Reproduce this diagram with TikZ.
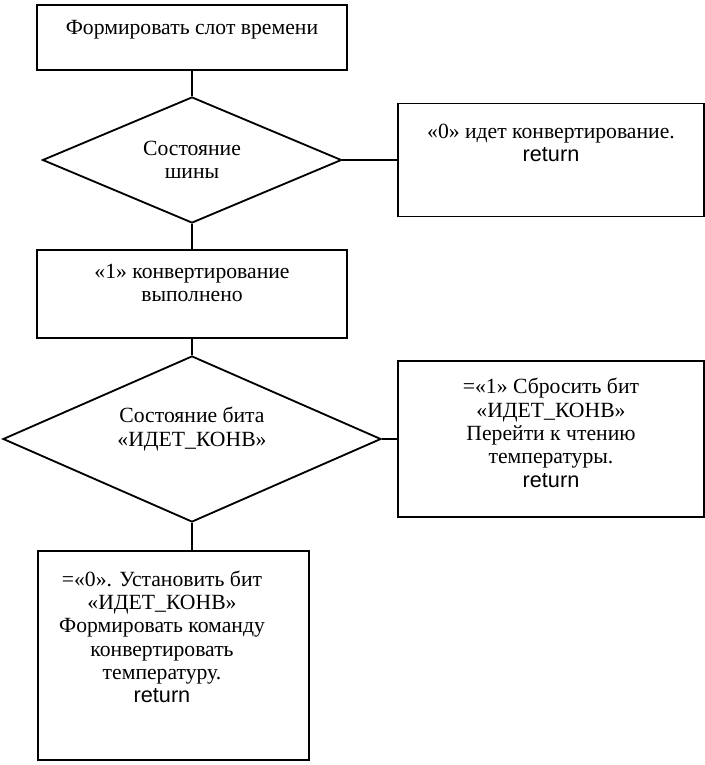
\documentclass[tikz,border=0pt]{standalone}
\usepackage{fontspec}
\setmainfont{Liberation Serif}
\newfontfamily\retfont{Liberation Sans}
\usetikzlibrary{shapes.geometric}
\begin{document}
\begin{tikzpicture}[x=0.6pt, y=-0.6pt,
    blok/.style={draw, line width=1.1pt, rectangle, inner sep=0pt},
    romb/.style={draw, line width=1.1pt, diamond, inner sep=0pt},
    lbl/.style={align=center, inner sep=0pt, font=\fontsize{13}{14}\selectfont},
    link/.style={line width=1.1pt}]
            \useasboundingbox (0,0) rectangle (705,765);
            
            % Drawing box Formirovat slot
            \node [blok, minimum width=186pt, minimum height=39pt] (slot) at (192,37.5) {};
            \node [lbl] (slotT) at (192,30) {Формировать слот времени};
            
            % Drawing diamond Sostoyanie shiny
            \node [romb, minimum width=179.4pt, minimum height=75.6pt] (shina) at (192,160) {};
            \node [lbl] (shinaT) at (192,160) {Состояние\\шины};
            
            % Drawing box "0"
            \node [blok, minimum width=183.6pt, minimum height=67.8pt] (nol) at (551,160) {};
            \node [lbl] (nolT) at (551,143) {«0» идет конвертирование.\\{\retfont return}};
            
            % Drawing box "1"
            \node [blok, minimum width=186pt, minimum height=52.8pt] (odin) at (192,294) {};
            \node [lbl] (odinT) at (192,283) {«1» конвертирование\\выполнено};
            
            % Drawing diamond Sostoyanie bita
            \node [romb, minimum width=226.8pt, minimum height=99.6pt] (bit) at (192,439) {};
            \node [lbl] (bitT) at (192,429) {Состояние бита\\«ИДЕТ\_КОНВ»};
            
            % Drawing box "=1"
            \node [blok, minimum width=183.6pt, minimum height=93.6pt] (sbros) at (551,439) {};
            \node [lbl] (sbrosT) at (551,433) {=«1» Сбросить бит\\«ИДЕТ\_КОНВ»\\Перейти к чтению\\температуры.\\{\retfont return}};
            
            % Drawing box "=0"
            \node [blok, minimum width=162.6pt, minimum height=125.4pt] (ustan) at (173.5,655.5) {};
            \node [lbl] (ustanT) at (162,637) {=«0». Установить бит\\«ИДЕТ\_КОНВ»\\Формировать команду\\конвертировать\\температуру.\\{\retfont return}};
            
            % Drawing connectors
            \draw [link] (slot.south) -- (shina.north);%
            \draw [link] (shina.east) -- (nol.west);%
            \draw [link] (shina.south) -- (odin.north);%
            \draw [link] (odin.south) -- (bit.north);%
            \draw [link] (bit.east) -- (sbros.west);%
            \draw [link] (bit.south) -- (bit.south |- ustan.north);%
        \end{tikzpicture}
\end{document}
